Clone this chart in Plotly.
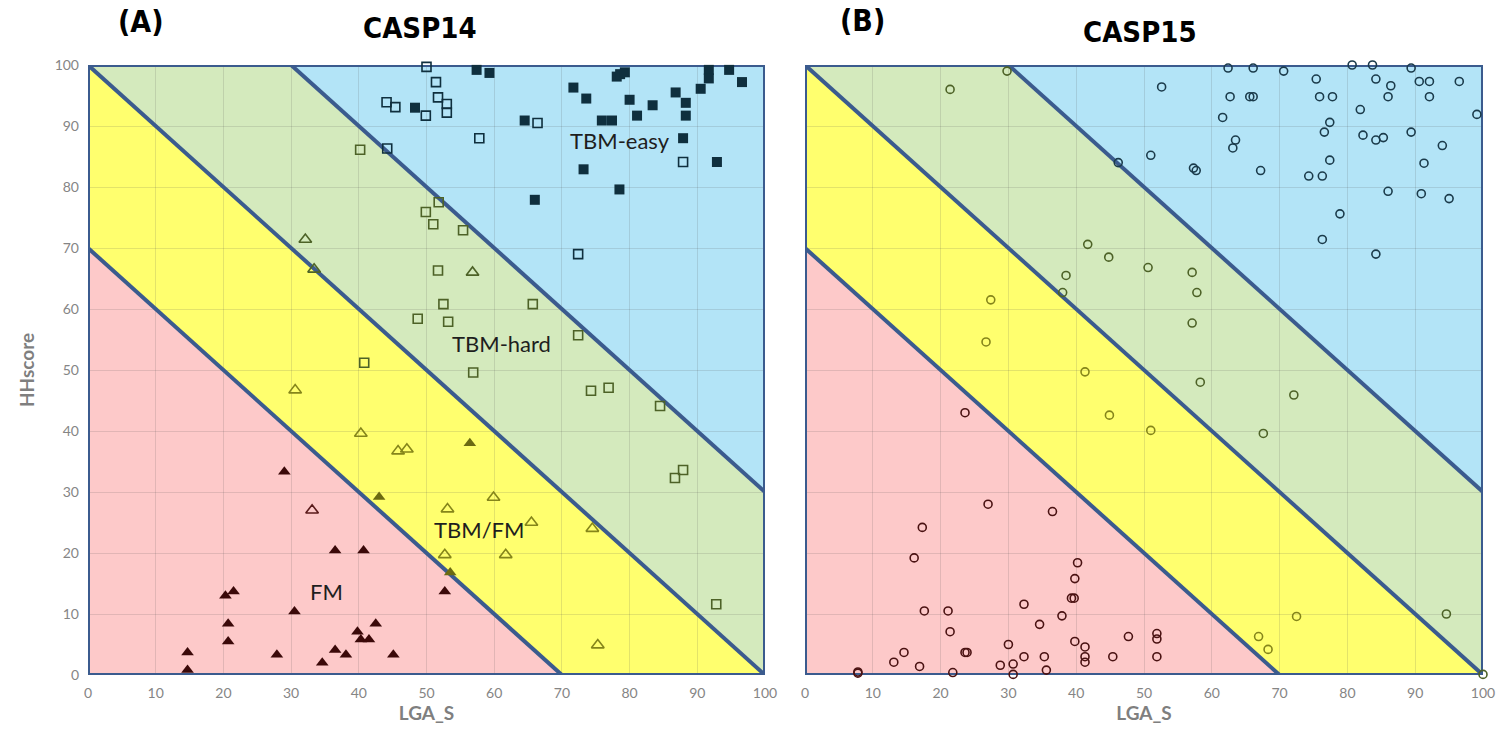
import plotly.graph_objects as go

# ---------------- data ----------------
# CASP14 (panel A)
c14_easy_filled_x = [57.4, 59.3, 48.3, 64.5, 71.7, 73.6, 78.1, 78.6, 79.3, 80.0, 83.4, 81.1, 75.9, 77.4, 86.8, 88.3, 88.3, 90.5, 91.7, 91.7, 94.7, 96.6, 87.9, 92.9, 73.2, 78.5, 66.0]
c14_easy_filled_y = [99.2, 98.7, 93.0, 90.9, 96.3, 94.5, 98.1, 98.5, 98.8, 94.3, 93.4, 91.7, 90.9, 90.9, 95.5, 93.8, 91.7, 96.1, 99.2, 97.8, 99.2, 97.2, 88.0, 84.1, 82.9, 79.6, 77.9]

c14_easy_open_x = [50.0, 51.4, 44.1, 45.4, 49.9, 51.7, 53.0, 53.0, 66.4, 57.8, 44.2, 87.9, 72.4]
c14_easy_open_y = [99.7, 97.2, 93.9, 93.1, 91.7, 94.7, 93.6, 92.2, 90.5, 88.0, 86.3, 84.1, 69.0]

c14_hard_sq_x = [40.2, 51.8, 49.9, 51.0, 55.4, 51.7, 52.5, 48.7, 53.2, 65.7, 72.4, 40.8, 56.9, 74.3, 76.9, 84.5, 86.7, 87.9, 92.8]
c14_hard_sq_y = [86.1, 77.5, 75.9, 73.9, 72.9, 66.3, 60.8, 58.4, 57.9, 60.8, 55.7, 51.2, 49.6, 46.6, 47.1, 44.1, 32.3, 33.6, 11.6]

c14_hard_tri_x = [32.1, 33.4, 56.8]
c14_hard_tri_y = [71.4, 66.5, 66.0]

c14_tbmfm_open_x = [30.6, 40.3, 45.8, 47.1, 53.1, 52.7, 59.9, 65.5, 74.5, 61.7, 75.3]
c14_tbmfm_open_y = [46.7, 39.6, 36.7, 37.0, 27.2, 19.7, 29.1, 25.0, 24.0, 19.7, 4.9]

c14_tbmfm_filled_x = [56.4, 43.0, 53.5]
c14_tbmfm_filled_y = [38.0, 29.2, 16.8]

c14_fm_filled_x = [29.0, 36.5, 40.7, 20.3, 21.5, 30.5, 20.7, 20.7, 14.7, 14.7, 27.9, 34.6, 36.5, 38.1, 39.8, 40.3, 41.5, 42.5, 45.1, 52.7]
c14_fm_filled_y = [33.3, 20.4, 20.4, 13.0, 13.7, 10.4, 8.4, 5.5, 3.7, 0.8, 3.3, 2.0, 4.1, 3.3, 7.1, 5.8, 5.8, 8.4, 3.3, 13.7]

c14_fm_open_x = [33.1]
c14_fm_open_y = [27.0]

# CASP15 (panel B)
c15_easy_x = [52.6, 51.0, 46.2, 57.3, 57.7, 62.4, 66.1, 70.6, 75.4, 80.7, 83.7, 89.4, 84.2, 86.4, 90.6, 92.1, 96.5,
              62.7, 65.6, 66.1, 75.9, 77.8, 86.0, 92.1, 61.6, 81.9, 99.1, 77.4, 76.6, 82.3, 84.2, 85.3, 89.4, 94.0,
              63.5, 63.1, 67.2, 74.3, 76.3, 77.4, 91.3, 86.0, 90.9, 95.0, 78.9, 76.3, 84.2]
c15_easy_y = [96.4, 85.2, 84.0, 83.1, 82.7, 99.5, 99.5, 99.0, 97.7, 100.0, 100.0, 99.5, 97.7, 96.6, 97.3, 97.3, 97.3,
              94.8, 94.8, 94.8, 94.8, 94.8, 94.8, 94.8, 91.4, 92.7, 91.9, 90.6, 89.0, 88.5, 87.7, 88.1, 89.0, 86.8,
              87.7, 86.4, 82.7, 81.8, 81.8, 84.4, 83.9, 79.3, 78.9, 78.1, 75.6, 71.4, 69.0]

c15_hard_x = [29.8, 21.4, 41.7, 44.8, 38.5, 50.6, 57.1, 38.0, 57.8, 57.1, 58.3, 72.1, 67.6, 94.6, 100.0]
c15_hard_y = [99.0, 96.0, 70.6, 68.5, 65.5, 66.8, 66.0, 62.7, 62.7, 57.7, 48.0, 45.9, 39.6, 10.0, 0.1]

c15_tbmfm_x = [27.4, 26.7, 41.3, 44.9, 51.0, 72.5, 66.9, 68.3]
c15_tbmfm_y = [61.5, 54.6, 49.7, 42.6, 40.1, 9.6, 6.3, 4.2]

c15_fm_x = [23.6, 27.0, 36.5, 17.3, 16.1, 40.2, 39.8, 39.3, 39.7, 32.3, 17.6, 21.1, 37.9, 34.6, 21.4, 47.7, 51.9, 51.9,
            39.8, 41.3, 30.0, 23.9, 23.6, 14.6, 13.1, 16.9, 7.8, 7.8, 21.8, 28.8, 30.7, 30.7, 32.3, 35.3, 35.6, 41.3,
            41.3, 45.4, 51.9]
c15_fm_y = [43.0, 28.0, 26.8, 24.2, 19.2, 18.4, 15.8, 12.6, 12.6, 11.6, 10.5, 10.5, 9.7, 8.3, 7.1, 6.3, 6.8, 5.9,
            5.5, 4.6, 5.0, 3.7, 3.7, 3.7, 2.1, 1.4, 0.5, 0.3, 0.4, 1.6, 1.8, 0.1, 3.0, 3.0, 0.8, 3.0,
            2.1, 3.0, 3.0]

# region boundaries (x + y = threshold)
thresholds = [70, 100, 130]
region_colors = ["#fdc9c9", "#ffff6e", "#d4eabd", "#b3e4f7"]
region_labels = ["FM", "TBM/FM", "TBM-hard", "TBM-easy"]
label_x = [35.3, 57.7, 61.1, 78.6]
label_y = [13.7, 23.9, 54.3, 87.7]

tick_vals = [0, 10, 20, 30, 40, 50, 60, 70, 80, 90, 100]

# colours
NAVY = "#0f2f3e"
OLIVE = "#4d6227"
YOLIVE = "#85851a"
YFILL = "#6b6a12"
MAROON = "#3b0909"
BORDER = "#3b5b8e"

# ---------------- helpers ----------------
def clip(poly, a, sign):
    """keep part of polygon where sign*(x+y-a) >= 0"""
    out = []
    n = len(poly)
    for i in range(n):
        p = poly[i]
        q = poly[(i + 1) % n]
        fp = sign * (p[0] + p[1] - a)
        fq = sign * (q[0] + q[1] - a)
        if fp >= 0:
            out.append(p)
        if (fp >= 0) != (fq >= 0):
            t = fp / (fp - fq)
            out.append((p[0] + t * (q[0] - p[0]), p[1] + t * (q[1] - p[1])))
    return out

square = [(0, 0), (100, 0), (100, 100), (0, 100)]
bands = [-1e9] + thresholds + [1e9]

fig = go.Figure()
shapes = []
for xr, yr in (("x", "y"), ("x2", "y2")):
    for i in range(len(region_colors)):
        poly = clip(square, bands[i], 1)
        poly = clip(poly, bands[i + 1], -1)
        path = "M " + " L ".join(f"{px:.3f},{py:.3f}" for px, py in poly) + " Z"
        shapes.append(dict(type="path", path=path, xref=xr, yref=yr, fillcolor=region_colors[i],
                           line=dict(width=0), layer="below"))
    for t in thresholds:
        x0, y0 = max(0, t - 100), min(100, t)
        x1, y1 = min(100, t), max(0, t - 100)
        shapes.append(dict(type="line", x0=x0, y0=y0, x1=x1, y1=y1, xref=xr, yref=yr,
                           line=dict(color=BORDER, width=4), layer="between"))
    shapes.append(dict(type="rect", x0=0, y0=0, x1=100, y1=100, xref=xr, yref=yr,
                       line=dict(color=BORDER, width=4), layer="between"))


def add(x, y, symbol, color, size, xa, ya, filled):
    fig.add_trace(go.Scatter(
        x=x, y=y, mode="markers", xaxis=xa, yaxis=ya, cliponaxis=False, showlegend=False,
        marker=dict(symbol=symbol if filled else symbol + "-open", size=size, color=color,
                    line=dict(color=color, width=1.6 if not filled else 0))))

# panel A
add(c14_easy_filled_x, c14_easy_filled_y, "square", NAVY, 10, "x", "y", True)
add(c14_easy_open_x, c14_easy_open_y, "square", NAVY, 9, "x", "y", False)
add(c14_hard_sq_x, c14_hard_sq_y, "square", OLIVE, 9, "x", "y", False)
add(c14_hard_tri_x, c14_hard_tri_y, "triangle-up", OLIVE, 11, "x", "y", False)
add(c14_tbmfm_open_x, c14_tbmfm_open_y, "triangle-up", YOLIVE, 11, "x", "y", False)
add(c14_tbmfm_filled_x, c14_tbmfm_filled_y, "triangle-up", YFILL, 11, "x", "y", True)
add(c14_fm_filled_x, c14_fm_filled_y, "triangle-up", MAROON, 11, "x", "y", True)
add(c14_fm_open_x, c14_fm_open_y, "triangle-up", "#5a1a1a", 11, "x", "y", False)

# panel B
add(c15_easy_x, c15_easy_y, "circle", "#1b3b4b", 8, "x2", "y2", False)
add(c15_hard_x, c15_hard_y, "circle", OLIVE, 8, "x2", "y2", False)
add(c15_tbmfm_x, c15_tbmfm_y, "circle", YOLIVE, 8, "x2", "y2", False)
add(c15_fm_x, c15_fm_y, "circle", "#4a1212", 8, "x2", "y2", False)

TICKFONT = dict(family="Lato, Open Sans, sans-serif", size=14, color="#858585")
TITLEFONT = dict(family="Lato, Open Sans, sans-serif", size=19, color="#7f7f7f")
axis_common = dict(range=[0, 100], tickvals=tick_vals, showgrid=True, gridcolor="rgba(80,80,80,0.16)",
                   gridwidth=1, zeroline=False, showline=False, ticks="", ticklabelstandoff=8,
                   automargin=False)

# target plot box in the 1500x750 page: x 88..765 / 805..1483, y 65..675
W, H = 1500, 750
ml, mt = 88, 65
mr = W - 1483
mb = H - 675
pw = W - ml - mr
ph = H - mt - mb
d1 = (765 - ml) / pw
d2 = (805 - ml) / pw

annotations = []
for lab, lx, ly in zip(region_labels, label_x, label_y):
    annotations.append(dict(text=lab, x=lx, y=ly, xref="x", yref="y", showarrow=False,
                            font=dict(family="Lato, Open Sans, sans-serif", size=22, color="#1e1e1e")))


def px_to_paper(px, py):
    return (px - ml) / pw, (H - mb - py) / ph

for txt, px, py, sz in (("(A)", 141, 22, 30), ("CASP14", 420, 28, 29), ("(B)", 862, 20, 30), ("CASP15", 1140, 32, 29)):
    ax_, ay_ = px_to_paper(px, py)
    annotations.append(dict(text=f"<b>{txt}</b>", x=ax_, y=ay_, xref="paper", yref="paper", showarrow=False,
                            xanchor="center", yanchor="middle",
                            font=dict(family="Liberation Sans Narrow, DejaVu Sans Condensed, Arial Narrow, sans-serif",
                                      size=sz, color="#000000")))

fig.update_layout(
    width=W, height=H, margin=dict(l=ml, r=mr, t=mt, b=mb, autoexpand=False),
    plot_bgcolor="white", paper_bgcolor="white",
    shapes=shapes, annotations=annotations,
    xaxis=dict(domain=[0, d1], anchor="y", tickfont=TICKFONT,
               title=dict(text="<b>LGA_S</b>", font=TITLEFONT, standoff=6), **axis_common),
    yaxis=dict(domain=[0, 1], anchor="x", tickfont=TICKFONT,
               title=dict(text="<b>HHscore</b>", font=TITLEFONT, standoff=14), **axis_common),
    xaxis2=dict(domain=[d2, 1], anchor="y2", tickfont=TICKFONT,
                title=dict(text="<b>LGA_S</b>", font=TITLEFONT, standoff=6), **axis_common),
    yaxis2=dict(domain=[0, 1], anchor="x2", showticklabels=False, **axis_common),
)

fig.write_html(
    "out.html",
    config={"responsive": False, "displayModeBar": False},
    post_script="document.body.style.margin='0';document.body.style.overflow='hidden';",
)
